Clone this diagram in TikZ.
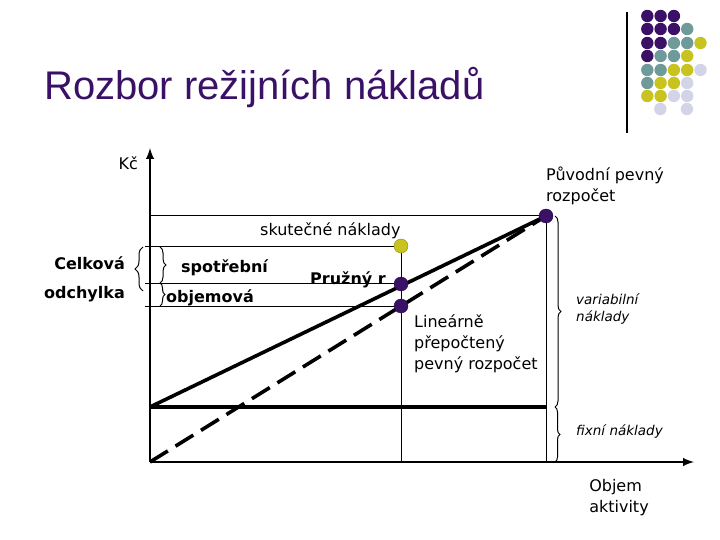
\documentclass[tikz,border=0pt]{standalone}
\usepackage{fontspec}
\setmainfont{DejaVu Sans}
\newfontfamily\arialf{Liberation Sans}
\usetikzlibrary{decorations.pathreplacing}
\definecolor{pp}{HTML}{3A1166}
\definecolor{tt}{HTML}{6E9A9A}
\definecolor{yy}{HTML}{C8C31E}
\definecolor{ll}{HTML}{D4D4E8}
\begin{document}
\begin{tikzpicture}[x=1pt,y=-1pt,
  lbl/.style={font=\fontsize{16}{21}\selectfont,inner sep=0pt,align=left},
  bl/.style={font=\fontsize{16}{21}\selectfont\bfseries,inner sep=0pt},
  ital/.style={font=\fontsize{13.5}{17}\selectfont\itshape,inner sep=0pt,align=left},
  dotp/.style={circle,fill=pp,draw=pp!60!black,minimum size=14pt,inner sep=0pt},
  doty/.style={circle,fill=yy,draw=yy!70!black,minimum size=14pt,inner sep=0pt},
  thin/.style={line width=1pt},
  thick3/.style={line width=3.6pt},
  brc/.style={decorate,line width=1pt}]
\useasboundingbox (0,0) rectangle (720,540);
% decorative dots
\draw[line width=1.2pt] (627,12) -- (627,133);
\foreach \r/\cols in {16/{pp,pp,pp},29/{pp,pp,pp,tt},43/{pp,pp,tt,tt,yy},56/{pp,tt,tt,yy},70/{tt,tt,yy,yy,ll},83/{tt,yy,yy,ll},96/{yy,yy,ll,ll}}{
  \foreach \c [count=\i] in \cols {\fill[\c] (634+13.3*\i,\r) circle (6.2);}}
\fill[ll] (660.3,109) circle (6.2);
\fill[ll] (686.9,109) circle (6.2);
\node[font=\arialf\fontsize{40}{44}\selectfont,text=pp,anchor=west,inner sep=0pt] (title) at (44,88) {Rozbor režijních nákladů};
% axes
\coordinate (O) at (150,462);
\coordinate (Ytop) at (150,148);
\coordinate (Xend) at (694,462);
\draw[line width=2.7pt,-latex] (O) -- (Ytop);
\draw[line width=2.7pt,-latex] (O) -- (Xend);
\node[lbl,anchor=east] (kc) at (138,163) {Kč};
% points
\coordinate (Fx) at (150,407);
\coordinate (Fxe) at (546,407);
\coordinate (Xs) at (401,462);
\coordinate (Xp) at (546,462);
\coordinate (P0) at (546,216);
% thin lines
\draw[thin] (150,216) -- (P0);
\draw[thin] (145,246) -- (401,246);
\draw[thin] (145,283) -- (401,283);
\draw[thin] (145,306) -- (401,306);
\draw[thin] (401,246) -- (Xs);
\draw[thin] (P0) -- (Xp);
% thick lines
\draw[thick3] (Fx) -- (P0);
\draw[thick3] (Fx) -- (Fxe);
\draw[thick3,dash pattern=on 21pt off 9pt] (O) -- (P0);
\node[dotp] (P) at (P0) {};
\node[doty] (S) at (401,246) {};
\node[dotp] (F) at (401,284) {};
\node[dotp] (L) at (401,306) {};
% braces left
\draw[brc,decoration={brace,amplitude=8pt}] (143,291) -- (143,247);
\draw[brc,decoration={brace,amplitude=6pt}] (160,247) -- (160,283);
\draw[brc,decoration={brace,amplitude=5pt}] (160,283) -- (160,306);
\node[bl,anchor=east] (cel) at (125,263) {Celková};
\node[bl,anchor=east] (odc) at (125,294) {odchylka};
\node[bl,anchor=west] (spo) at (181,268) {spotřební};
\node[bl,anchor=west] (obj) at (166,298) {objemová};
\node[bl,anchor=west] (pr) at (310,280) {Pružný r};
\node[lbl,anchor=west] (sk) at (260,231) {skutečné náklady};
\node[lbl,anchor=north west] (pv) at (546,167) {Původní pevný\\rozpočet};
\node[lbl,anchor=north west] (lin) at (414,315) {Lineárně\\přepočtený\\pevný rozpočet};
% braces right
\draw[brc,decoration={brace,amplitude=6pt}] (555,216) -- (555,407);
\draw[brc,decoration={brace,amplitude=5pt}] (555,407) -- (555,462);
\node[ital,anchor=west] (var) at (576,309) {variabilní\\náklady};
\node[ital,anchor=west] (fix) at (576,432) {fixní náklady};
\node[lbl,anchor=north] (oa) at (619,479) {Objem\\aktivity};
\end{tikzpicture}
\end{document}
